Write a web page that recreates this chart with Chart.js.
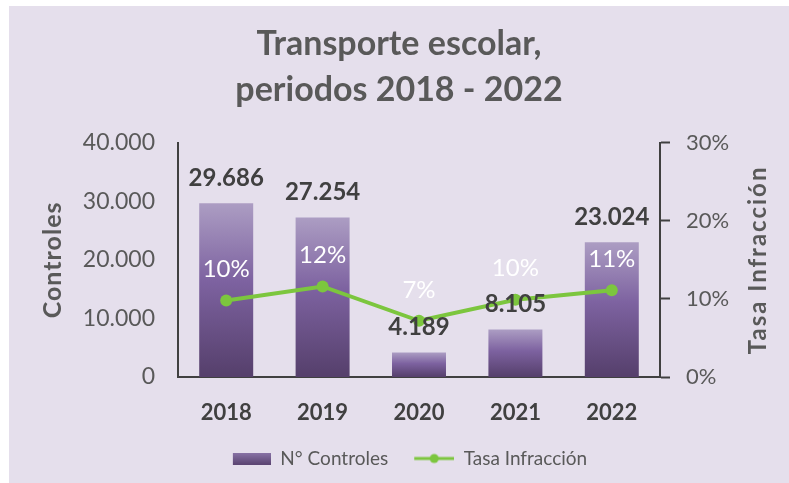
<!DOCTYPE html>
<html>
<head>
<meta charset="utf-8">
<script src="https://cdn.jsdelivr.net/npm/chart.js@4/dist/chart.umd.min.js"></script>
<style>
    html, body { margin: 0; padding: 0; background: #ffffff; }
    #wrap {
        position: absolute;
        left: 9px;
        top: 6px;
        width: 780px;
        height: 477px;
        background: #e5dfec;
    }
</style>
</head>
<body>
<div id="wrap"><canvas id="transporteChart"></canvas></div>
<script>
// Chart data
const years = ['2018', '2019', '2020', '2021', '2022'];
const controles = [29686, 27254, 4189, 8105, 23024];
const tasaInfraccion = [0.098, 0.116, 0.072, 0.099, 0.111];
const controlesTicks = [0, 10000, 20000, 30000, 40000];
const tasaTicks = [0, 0.1, 0.2, 0.3];

const GRAY = '#595959';
const DARK = '#404040';
const GREEN = '#7cc63e';

function thousands(v) {
    return v.toString().replace(/\B(?=(\d{3})+(?!\d))/g, '.');
}

function percent(v) {
    return Math.round(v * 100) + '%';
}

// per-bar vertical gradient
function barFill(context) {
    const chart = context.chart;
    if (!chart.chartArea || !chart.scales.y) {
        return '#7b5f9a';
    }
    const y = chart.scales.y;
    const top = y.getPixelForValue(controles[context.dataIndex]);
    const bottom = y.getPixelForValue(0);
    const g = chart.ctx.createLinearGradient(0, top, 0, bottom);
    g.addColorStop(0, '#ac9dc3');
    g.addColorStop(0.45, '#7d62a0');
    g.addColorStop(1, '#553f6b');
    return g;
}

// legend symbols (60px wide, symbol pushed to the right to space the items)
function barSwatch() {
    const c = document.createElement('canvas');
    c.width = 60;
    c.height = 12;
    const x = c.getContext('2d');
    const g = x.createLinearGradient(0, 0, 0, 12);
    g.addColorStop(0, '#8a74a8');
    g.addColorStop(1, '#5b4472');
    x.fillStyle = g;
    x.fillRect(22, 0, 38, 12);
    return c;
}

function lineSwatch() {
    const c = document.createElement('canvas');
    c.width = 60;
    c.height = 12;
    const x = c.getContext('2d');
    x.strokeStyle = GREEN;
    x.lineWidth = 3;
    x.beginPath();
    x.moveTo(20, 6);
    x.lineTo(60, 6);
    x.stroke();
    x.fillStyle = GREEN;
    x.beginPath();
    x.arc(40, 6, 4.5, 0, Math.PI * 2);
    x.fill();
    return c;
}

const legendImages = [barSwatch(), lineSwatch()];

function drawAxisTitle(ctx, text, x, y, font, spacing) {
    ctx.save();
    ctx.textAlign = 'center';
    ctx.textBaseline = 'middle';
    ctx.fillStyle = GRAY;
    ctx.font = font;
    ctx.letterSpacing = spacing;
    ctx.translate(x, y);
    ctx.rotate(-Math.PI / 2);
    ctx.fillText(text, 0, 0);
    ctx.restore();
}

const labelsPlugin = {
    id: 'valueLabels',
    afterDatasetsDraw(chart) {
        const ctx = chart.ctx;
        const barMeta = chart.getDatasetMeta(0);
        const lineMeta = chart.getDatasetMeta(1);
        ctx.save();
        ctx.textAlign = 'center';
        ctx.textBaseline = 'middle';

        ctx.font = '24px Lato';
        ctx.fillStyle = '#ffffff';
        lineMeta.data.forEach(function(pt, i) {
            ctx.fillText(percent(tasaInfraccion[i]), pt.x, pt.y - 31);
        });

        ctx.font = 'bold 24px Lato';
        ctx.fillStyle = DARK;
        barMeta.data.forEach(function(bar, i) {
            ctx.fillText(thousands(controles[i]), bar.x, bar.y - 25);
        });
        ctx.restore();

        // axis titles (both read bottom to top)
        const midY = (chart.chartArea.top + chart.chartArea.bottom) / 2;
        drawAxisTitle(ctx, 'Controles', chart.scales.y.left + 44, midY, 'bold 25px Lato', '1px');
        drawAxisTitle(ctx, 'Tasa Infracción', chart.scales.y1.right - 31, midY, 'bold 24px Lato', '2px');
    }
};

Chart.defaults.font.family = 'Lato';

const chartCtx = document.getElementById('transporteChart').getContext('2d');
new Chart(chartCtx, {
    type: 'bar',
    data: {
        labels: years,
        datasets: [{
            type: 'bar',
            label: 'N° Controles',
            data: controles,
            yAxisID: 'y',
            backgroundColor: barFill,
            barPercentage: 0.56,
            categoryPercentage: 1,
            order: 2
        }, {
            type: 'line',
            label: 'Tasa Infracción',
            data: tasaInfraccion,
            yAxisID: 'y1',
            borderColor: GREEN,
            backgroundColor: GREEN,
            borderWidth: 4,
            pointRadius: 6,
            pointStyle: 'circle',
            pointBackgroundColor: GREEN,
            pointBorderWidth: 0,
            order: 1
        }]
    },
    options: {
        responsive: true,
        maintainAspectRatio: false,
        animation: false,
        layout: {
            padding: { bottom: 5 }
        },
        plugins: {
            title: {
                display: true,
                text: ['Transporte escolar,', 'periodos 2018 - 2022'],
                color: GRAY,
                font: { size: 34, weight: 'bold', lineHeight: 1.35 },
                padding: { top: 15, bottom: 30 }
            },
            legend: {
                position: 'bottom',
                labels: {
                    usePointStyle: true,
                    pointStyleWidth: 60,
                    color: GRAY,
                    font: { size: 19 },
                    padding: 6,
                    sort: function(a, b) { return a.datasetIndex - b.datasetIndex; },
                    generateLabels: function(chart) {
                        const items = Chart.defaults.plugins.legend.labels.generateLabels(chart);
                        items.forEach(function(item) {
                            item.pointStyle = legendImages[item.datasetIndex];
                        });
                        return items;
                    }
                }
            },
            tooltip: { enabled: false }
        },
        scales: {
            x: {
                afterFit: function(scale) { scale.height = 66; },
                grid: { display: false, drawTicks: false },
                border: { display: true, color: DARK, width: 2 },
                ticks: {
                    color: DARK,
                    font: { size: 22, weight: 'bold' },
                    padding: 23
                }
            },
            y: {
                position: 'left',
                min: 0,
                max: 40000,
                afterFit: function(scale) { scale.width = 169; },
                afterBuildTicks: function(scale) {
                    scale.ticks = controlesTicks.map(function(v) { return { value: v }; });
                },
                grid: { display: false, drawTicks: false },
                border: { display: true, color: DARK, width: 2 },
                ticks: {
                    color: GRAY,
                    font: { size: 23 },
                    padding: 23,
                    callback: function(v) { return thousands(v); }
                }
            },
            y1: {
                position: 'right',
                min: 0,
                max: 0.3,
                afterFit: function(scale) { scale.width = 129; },
                afterBuildTicks: function(scale) {
                    scale.ticks = tasaTicks.map(function(v) { return { value: v }; });
                },
                grid: {
                    drawOnChartArea: false,
                    drawTicks: true,
                    tickLength: 10,
                    tickWidth: 2,
                    color: DARK
                },
                border: { display: true, color: DARK, width: 2 },
                ticks: {
                    color: GRAY,
                    font: { size: 22 },
                    padding: 16,
                    callback: function(v) { return percent(v); }
                }
            }
        }
    },
    plugins: [labelsPlugin]
});
</script>
</body>
</html>
